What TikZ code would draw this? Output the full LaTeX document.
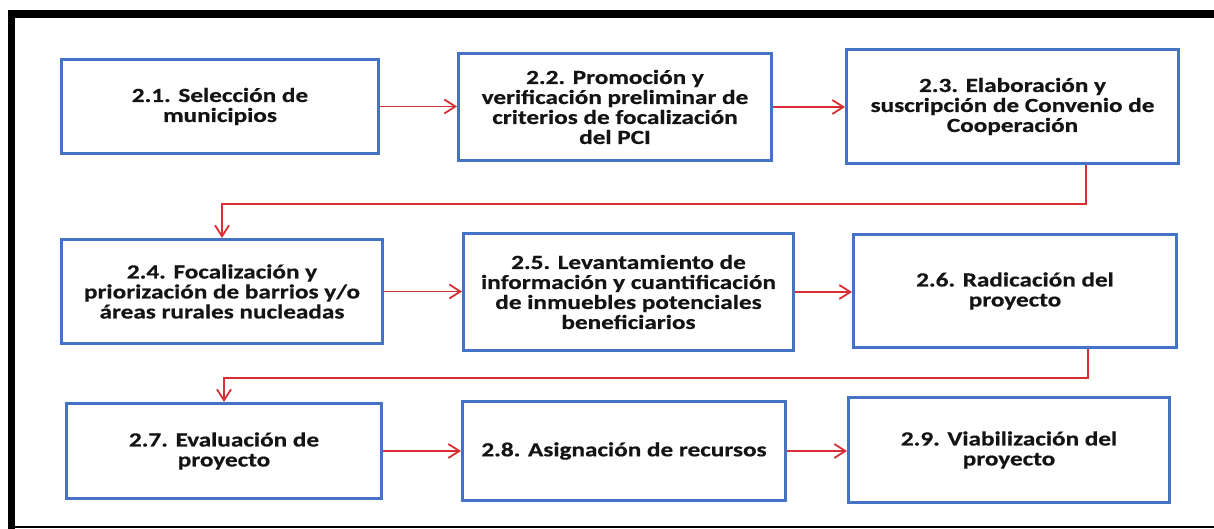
\documentclass[tikz,border=0pt]{standalone}
\usepackage{fontspec}
\setmainfont{Carlito}[FakeStretch=1.26,BoldFeatures={FakeBold=0.6}]
\usetikzlibrary{arrows.meta}
\definecolor{boxblue}{RGB}{68,114,196}
\definecolor{linered}{RGB}{214,48,52}
\begin{document}
\begin{tikzpicture}[x=1pt,y=-1pt,
  stepbox/.style={draw=boxblue,line width=3pt,fill=white,inner sep=0pt,align=center,
    font=\bfseries\fontsize{20}{20}\selectfont,text=black!92},
  arr/.style={draw=linered,line width=1.8pt,-{Straight Barb[length=11pt,width=14pt,line width=1.8pt]}},
  conn/.style={draw=linered,line width=1.8pt}]
\useasboundingbox (0,0) rectangle (1214,529);
\fill[white] (0,0) rectangle (1214,529);
% frame
\fill[black] (8,10) rectangle (1214,18);
\fill[black] (8,10) rectangle (15,529);
\draw[black,line width=1.2pt] (8,527) -- (1214,527);
% boxes
\node[stepbox,minimum width=317,minimum height=94] (b1) at (220,106.5) {2.1. Selección de\\municipios};
\node[stepbox,minimum width=313,minimum height=107] (b2) at (615,107) {2.2. Promoción y\\verificación preliminar de\\criterios de focalización\\del PCI};
\node[stepbox,minimum width=332,minimum height=114] (b3) at (1012.5,106.5) {2.3. Elaboración y\\suscripción de Convenio de\\Cooperación};
\node[stepbox,minimum width=321,minimum height=104] (b4) at (222,291.5) {2.4. Focalización y\\priorización de barrios y/o\\áreas rurales nucleadas};
\node[stepbox,minimum width=330,minimum height=117] (b5) at (628.5,292) {2.5. Levantamiento de\\información y cuantificación\\de inmuebles potenciales\\beneficiarios};
\node[stepbox,minimum width=323,minimum height=113] (b6) at (1015,291) {2.6. Radicación del\\proyecto};
\node[stepbox,minimum width=315,minimum height=95] (b7) at (224,451) {2.7. Evaluación de\\proyecto};
\node[stepbox,minimum width=323,minimum height=99] (b8) at (624,451) {2.8. Asignación de recursos};
\node[stepbox,minimum width=321,minimum height=105] (b9) at (1009,450) {2.9. Viabilización del\\proyecto};
% connectors
\coordinate (c1) at (1086,204);
\coordinate (c2) at (1088,378);
\draw[arr] (b1.east) -- (b1.east -| b2.west);
\draw[arr] (b2.east) -- (b2.east -| b3.west);
\draw[arr] (b3.south -| c1) -- (c1) -| (b4.north);
\draw[arr] (b4.east) -- (b4.east -| b5.west);
\draw[arr] (b5.east) -- (b5.east -| b6.west);
\draw[arr] (b6.south -| c2) -- (c2) -| (b7.north);
\draw[arr] (b7.east) -- (b7.east -| b8.west);
\draw[arr] (b8.east) -- (b8.east -| b9.west);
\end{tikzpicture}
\end{document}
